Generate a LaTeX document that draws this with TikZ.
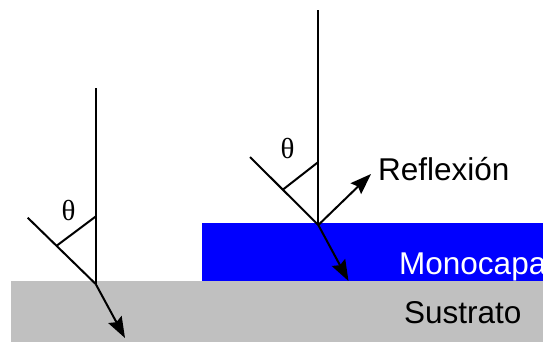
\documentclass[tikz,border=0pt]{standalone}
\usepackage{fontspec}
\setmainfont{Liberation Sans}
\newfontfamily\thetafont{Liberation Serif}
\usetikzlibrary{arrows.meta}
\definecolor{mono}{RGB}{0,0,255}
\definecolor{sub}{RGB}{192,192,192}
\begin{document}
\begin{tikzpicture}[x=1pt,y=-1pt,
  ray/.style={line width=2pt},
  arr/.style={line width=2pt,-{Stealth[length=21pt,width=15pt,inset=3pt]}},
  lbl/.style={inner sep=0pt,anchor=base west,font=\fontsize{31.5}{31.5}\selectfont},
  thl/.style={inner sep=0pt,font=\thetafont\fontsize{29}{29}\selectfont}]
\useasboundingbox (0,0) rectangle (543,341);
\clip (0,0) rectangle (543,341);
% layers
\fill[sub] (11,281) rectangle (545,343);
\fill[mono] (202,223) rectangle (545,281);
% left beam
\coordinate (L0) at (95.7,284);
\coordinate (Ltop) at (95.7,88);
\coordinate (Lin) at (27.7,217.7);
\coordinate (La) at (56.7,245.7);
\coordinate (Lb) at (95.7,216.5);
\coordinate (Lt) at (125,338);
\draw[ray] (Ltop) -- (L0);
\draw[ray] (Lin) -- (L0);
\draw[ray] (La) -- (Lb);
\draw[arr] (L0) -- (Lt);
\node[thl] (thL) at (68.5,210.5) {θ};
% right beam
\coordinate (R0) at (318.3,225);
\coordinate (Rtop) at (318.3,10);
\coordinate (Rin) at (250,157);
\coordinate (Ra) at (283.3,189.3);
\coordinate (Rb) at (318.3,162);
\coordinate (Rr) at (371,174);
\coordinate (Rt) at (348.5,281);
\draw[ray] (Rtop) -- (R0);
\draw[ray] (Rin) -- (R0);
\draw[ray] (Ra) -- (Rb);
\draw[arr] (R0) -- (Rr);
\draw[arr] (R0) -- (Rt);
\node[thl] (thR) at (287.5,148.5) {θ};
% labels
\node[lbl] (refl) at (378,180) {Reflexión};
\node[lbl,text=white] (mono) at (399,274) {Monocapa};
\node[lbl] (sus) at (404,323) {Sustrato};
\end{tikzpicture}
\end{document}
